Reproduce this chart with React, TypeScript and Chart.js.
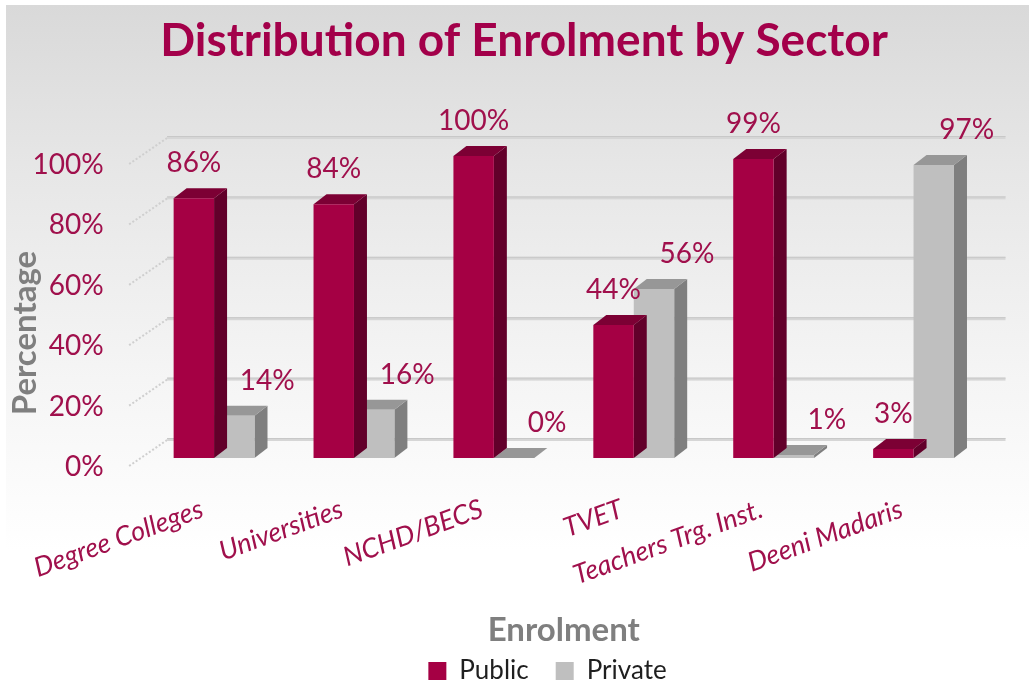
import React, { useEffect, useRef } from 'react';
import { Chart, registerables } from 'chart.js';

Chart.register(...registerables);

// ---- data ----
const categories = ['Degree Colleges', 'Universities', 'NCHD/BECS', 'TVET', 'Teachers Trg. Inst.', 'Deeni Madaris'];
const seriesNames = ['Public', 'Private'];
const publicValues = [86, 84, 100, 44, 99, 3];
const privateValues = [14, 16, 0, 56, 1, 97];
const yTickValues = [0, 20, 40, 60, 80, 100];

const TITLE = 'Distribution of Enrolment by Sector';
const Y_TITLE = 'Percentage';
const X_TITLE = 'Enrolment';

// ---- styling ----
const VIEW_W = 1029;
const VIEW_H = 686;
const CW = 1065; // canvas is a little wider than the view so the legend centres like the original
const CH = 700;
const PAD_BOTTOM = 6;
const PLOT_BOTTOM = 458;
const TITLE_COLOR = '#A3004A';
const TEXT_RED = '#A0104C';
const AXIS_GRAY = '#7F7F7F';
const FONT = 'Lato';
const faceColors = [
  { front: '#A50044', side: '#62002A', top: '#7C0034' },
  { front: '#BFBFBF', side: '#7F7F7F', top: '#979797' },
];
const DEPTH_X = 13;
const DEPTH_Y = 10;

const decorPlugin = {
  id: 'decor3d',
  beforeDraw(chart: any) {
    const ctx = chart.ctx;
    ctx.save();
    ctx.fillStyle = '#ffffff';
    ctx.fillRect(0, 0, chart.width, chart.height);
    const g = ctx.createLinearGradient(0, 5, 0, VIEW_H);
    g.addColorStop(0, '#d9d9d9');
    g.addColorStop(0.25, '#e7e7e7');
    g.addColorStop(0.55, '#f5f5f5');
    g.addColorStop(0.8, '#ffffff');
    g.addColorStop(1, '#ffffff');
    ctx.fillStyle = g;
    ctx.fillRect(6, 5, chart.width - 6, VIEW_H - 5);

    // main title
    ctx.font = `bold 46px ${FONT}`;
    ctx.fillStyle = TITLE_COLOR;
    ctx.textAlign = 'center';
    ctx.textBaseline = 'alphabetic';
    ctx.fillText(TITLE, 524, 56);

    // y axis title
    ctx.translate(25, 333);
    ctx.rotate(-Math.PI / 2);
    ctx.font = `bold 33px ${FONT}`;
    ctx.fillStyle = AXIS_GRAY;
    ctx.textAlign = 'center';
    ctx.textBaseline = 'middle';
    ctx.fillText(Y_TITLE, 0, 0);
    ctx.restore();
  },
  beforeDatasetsDraw(chart: any) {
    const ctx = chart.ctx;
    const ys = chart.scales.y;
    const area = chart.chartArea;
    ctx.save();
    yTickValues.forEach((v) => {
      const py = ys.getPixelForValue(v);
      // slanted side-wall marks
      ctx.strokeStyle = '#cfcfcf';
      ctx.lineWidth = 2;
      ctx.setLineDash([2, 2]);
      ctx.beginPath();
      ctx.moveTo(area.left - 15, py + 8);
      ctx.lineTo(area.left + 23, py - 18);
      ctx.stroke();
      ctx.setLineDash([]);
      // back wall gridline
      ctx.fillStyle = '#d6d6d6';
      ctx.fillRect(area.left + 23, py - 20, area.right - area.left - 1, 3);
      ctx.fillStyle = '#c8c8c8';
      ctx.fillRect(area.left + 23, py - 20, area.right - area.left - 1, 1);
    });
    ctx.restore();
  },
  beforeDatasetDraw(chart: any, args: any) {
    const ctx = chart.ctx;
    const colors = faceColors[args.index];
    ctx.save();
    args.meta.data.forEach((bar: any) => {
      const { x, y, base, width } = bar.getProps(['x', 'y', 'base', 'width'], true);
      const l = x - width / 2;
      const r = x + width / 2;
      // side face
      ctx.fillStyle = colors.side;
      ctx.beginPath();
      ctx.moveTo(r, y);
      ctx.lineTo(r + DEPTH_X, y - DEPTH_Y);
      ctx.lineTo(r + DEPTH_X, base - DEPTH_Y);
      ctx.lineTo(r, base);
      ctx.closePath();
      ctx.fill();
      // top face
      ctx.fillStyle = colors.top;
      ctx.beginPath();
      ctx.moveTo(l, y);
      ctx.lineTo(l + DEPTH_X, y - DEPTH_Y);
      ctx.lineTo(r + DEPTH_X, y - DEPTH_Y);
      ctx.lineTo(r, y);
      ctx.closePath();
      ctx.fill();
    });
    ctx.restore();
  },
  afterDatasetsDraw(chart: any) {
    const ctx = chart.ctx;
    ctx.save();
    ctx.font = `28px ${FONT}`;
    ctx.fillStyle = TEXT_RED;
    ctx.textAlign = 'center';
    ctx.textBaseline = 'middle';
    chart.data.datasets.forEach((ds: any, di: number) => {
      const meta = chart.getDatasetMeta(di);
      meta.data.forEach((bar: any, i: number) => {
        const { x, y } = bar.getProps(['x', 'y'], true);
        const dx = di === 1 ? 33 : 0;
        ctx.fillText(`${ds.data[i]}%`, x + dx, y - 35);
      });
    });
    ctx.restore();
  },
};

export default function App() {
  const canvasRef = useRef<HTMLCanvasElement | null>(null);

  useEffect(() => {
    const canvas = canvasRef.current;
    if (!canvas) return;
    const chart = new Chart(canvas, {
      type: 'bar',
      data: {
        labels: categories,
        datasets: [
          {
            label: seriesNames[0],
            data: publicValues,
            backgroundColor: faceColors[0].front,
            borderWidth: 0,
            categoryPercentage: 0.578,
            barPercentage: 1,
          },
          {
            label: seriesNames[1],
            data: privateValues,
            backgroundColor: faceColors[1].front,
            borderWidth: 0,
            categoryPercentage: 0.578,
            barPercentage: 1,
          },
        ],
      },
      options: {
        animation: false,
        responsive: false,
        maintainAspectRatio: false,
        layout: { padding: { left: 30, right: 0, top: 156, bottom: PAD_BOTTOM } },
        plugins: {
          title: { display: false },
          tooltip: { enabled: false },
          legend: {
            display: true,
            position: 'bottom',
            labels: {
              boxWidth: 18,
              boxHeight: 18,
              padding: 27,
              color: '#1f1f1f',
              font: { family: FONT, size: 26 },
            },
          },
        },
        scales: {
          x: {
            grid: { display: false, drawTicks: false },
            border: { display: false },
            ticks: {
              autoSkip: false,
              minRotation: 20,
              maxRotation: 20,
              padding: 35,
              labelOffset: -12,
              color: TEXT_RED,
              font: { family: FONT, size: 27, style: 'italic' },
            },
            title: {
              display: true,
              text: X_TITLE,
              color: AXIS_GRAY,
              font: { family: FONT, size: 33, weight: 'bold' },
              padding: { top: 0, bottom: -19 },
            },
            afterFit: (s: any) => {
              const lh = s.chart.legend ? s.chart.legend.height : 0;
              s.height = s.chart.height - PAD_BOTTOM - lh - PLOT_BOTTOM;
            },
          },
          y: {
            min: 0,
            max: 100,
            position: 'left',
            grid: { display: false, drawTicks: false },
            border: { display: false },
            afterBuildTicks: (s: any) => {
              s.ticks = yTickValues.map((v) => ({ value: v }));
            },
            ticks: {
              padding: 40.5,
              labelOffset: 9,
              color: TEXT_RED,
              font: { family: FONT, size: 28 },
              callback: (v: any) => `${v}%`,
            },
            afterFit: (s: any) => {
              s.width = 113.5;
            },
          },
          yRight: {
            type: 'linear',
            axis: 'y',
            position: 'right',
            display: true,
            grid: { display: false, drawTicks: false },
            border: { display: false },
            ticks: { display: false },
            afterFit: (s: any) => {
              s.width = 81.5;
            },
          },
        },
      },
      plugins: [decorPlugin],
    } as any);
    return () => chart.destroy();
  }, []);

  return (
    <div style={{ position: 'fixed', left: 0, top: 0, width: VIEW_W, height: VIEW_H, overflow: 'hidden', background: '#fff' }}>
      <canvas ref={canvasRef} width={CW} height={CH} style={{ display: 'block', width: CW, height: CH }} />
    </div>
  );
}
